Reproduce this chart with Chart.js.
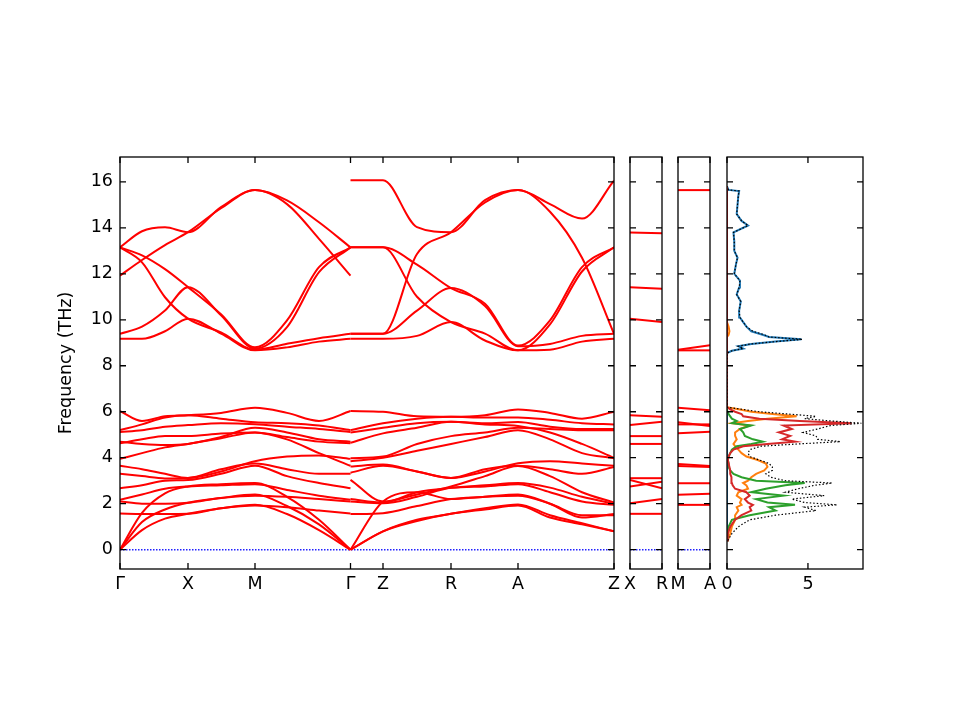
<!DOCTYPE html>
<html>
<head>
<meta charset="utf-8">
<script src="https://cdn.jsdelivr.net/npm/chart.js@4.4.1/dist/chart.umd.min.js"></script>
<style>
  html, body { margin: 0; padding: 0; background: #fff; }
  #wrap { position: relative; width: 960px; height: 720px; }
  #wrap canvas { position: absolute; left: 0; top: 0; }
</style>
</head>
<body>
<div id="wrap">
  <canvas id="bandas" width="960" height="720"></canvas>
  <canvas id="xr" width="960" height="720"></canvas>
  <canvas id="ma" width="960" height="720"></canvas>
  <canvas id="dos" width="960" height="720"></canvas>
</div>
<script>
// ---- dados ----
const Y_MIN = -0.84, Y_MAX = 17.08;
const Y_TICKS = [0, 2, 4, 6, 8, 10, 12, 14, 16];

const K_POS = [0, 68, 135, 230.5, 263, 331, 398, 494];
const K_LABELS = ['Γ', 'X', 'M', 'Γ', 'Z', 'R', 'A', 'Z'];

// Γ-X-M-Γ
const KA = [0, 22, 45, 68, 101, 135, 167, 199, 230.5];
const BANDS_A = [
  [13.15, 13.85, 14.02, 13.81, 14.9, 15.64, 15.19, 14.24, 13.15],
  [11.92, 12.6, 13.25, 13.81, 14.85, 15.64, 15.03, 13.52, 11.92],
  [13.15, 12.8, 12.2, 11.42, 10.24, 8.8, 9.97, 12.29, 13.15],
  [13.15, 12.5, 10.98, 10.05, 9.45, 8.7, 8.96, 9.2, 9.39],
  [9.39, 9.7, 10.4, 11.42, 10.2, 8.75, 9.68, 12.07, 13.15],
  [9.17, 9.17, 9.5, 10.05, 9.4, 8.67, 8.8, 9.05, 9.17],
  [6.03, 5.6, 5.8, 5.85, 5.95, 6.17, 5.95, 5.6, 6.03],
  [5.2, 5.45, 5.75, 5.85, 5.7, 5.54, 5.5, 5.4, 5.2],
  [5.12, 5.2, 5.35, 5.42, 5.5, 5.46, 5.35, 5.25, 5.12],
  [4.7, 4.6, 4.55, 4.6, 4.9, 5.3, 5.1, 4.8, 4.7],
  [4.63, 4.8, 4.95, 4.94, 5.05, 5.1, 4.9, 4.7, 4.63],
  [3.95, 4.2, 4.45, 4.6, 4.85, 5.1, 4.8, 4.2, 3.65],
  [3.65, 3.5, 3.3, 3.12, 3.4, 3.85, 4.05, 4.1, 3.95],
  [3.3, 3.2, 3.1, 3.12, 3.5, 3.75, 3.5, 3.3, 3.3],
  [2.67, 2.8, 3.0, 3.03, 3.3, 3.65, 3.2, 2.9, 2.67],
  [2.17, 2.4, 2.65, 2.75, 2.8, 2.85, 2.6, 2.35, 2.17],
  [2.1, 2.0, 2.0, 2.04, 2.25, 2.35, 2.3, 2.2, 2.1],
  [1.57, 1.55, 1.55, 1.56, 1.8, 1.92, 1.85, 1.7, 1.57],
  [0, 1.6, 2.45, 2.75, 2.85, 2.9, 2.3, 1.3, 0],
  [0, 1.2, 1.75, 2.04, 2.25, 2.4, 1.9, 1.1, 0],
  [0, 0.85, 1.35, 1.56, 1.8, 1.95, 1.55, 0.85, 0]
];

// Γ-Z-R-A-Z
const KB = [230.5, 263, 297, 331, 365, 398, 430, 462, 494];
const BANDS_B = [
  [16.07, 16.07, 14.03, 13.81, 15.2, 15.64, 15.03, 14.4, 16.05],
  [9.39, 9.39, 12.86, 13.81, 15.1, 15.64, 14.7, 12.7, 9.39],
  [13.15, 13.15, 12.4, 11.38, 10.7, 8.88, 9.97, 12.29, 13.15],
  [13.15, 13.15, 11.0, 9.9, 9.4, 8.67, 9.8, 12.1, 13.15],
  [9.39, 9.39, 10.4, 11.38, 10.6, 8.85, 8.95, 9.3, 9.39],
  [9.17, 9.17, 9.3, 9.9, 9.1, 8.67, 8.7, 9.05, 9.17],
  [6.03, 6.0, 5.8, 5.78, 5.85, 6.1, 5.95, 5.7, 6.0],
  [5.2, 5.5, 5.7, 5.78, 5.75, 5.75, 5.65, 5.5, 5.45],
  [5.1, 5.3, 5.5, 5.56, 5.5, 5.55, 5.35, 5.25, 5.25],
  [4.65, 5.06, 5.3, 5.56, 5.45, 5.38, 5.1, 4.6, 4.0],
  [3.98, 4.05, 4.6, 4.94, 5.1, 5.3, 5.25, 5.2, 5.2],
  [3.85, 4.0, 4.3, 4.6, 4.9, 5.2, 4.8, 4.2, 3.98],
  [3.62, 3.7, 3.4, 3.12, 3.4, 3.76, 3.85, 3.75, 3.65],
  [3.35, 3.65, 3.4, 3.12, 3.5, 3.65, 3.5, 3.3, 3.6],
  [3.04, 2.1, 2.4, 2.75, 3.2, 3.64, 3.2, 2.5, 2.05],
  [2.2, 2.05, 2.5, 2.69, 2.8, 2.9, 2.7, 2.3, 2.0],
  [2.1, 2.02, 2.3, 2.69, 2.75, 2.85, 2.5, 2.1, 1.95],
  [1.55, 1.59, 1.9, 2.2, 2.3, 2.4, 2.0, 1.4, 1.55],
  [0, 2.1, 2.5, 2.2, 2.3, 2.35, 2.0, 1.5, 1.5],
  [0, 0.8, 1.3, 1.56, 1.8, 1.97, 1.5, 1.15, 0.8],
  [0, 0.8, 1.25, 1.56, 1.75, 1.92, 1.4, 1.1, 0.8]
];

// X-R e M-A (inicio, fim)
const XR_START = [13.8, 11.42, 10.05, 5.85, 5.42, 4.94, 4.6, 3.11, 3.03, 2.75, 2.02, 1.56];
const XR_END   = [13.76, 11.35, 9.9, 5.78, 5.56, 4.94, 4.6, 3.11, 2.67, 2.95, 2.2, 1.56];
const MA_START = [15.64, 8.7, 8.67, 6.17, 5.54, 5.45, 5.06, 3.73, 3.64, 2.89, 2.39, 1.95];
const MA_END   = [15.64, 8.89, 8.67, 6.07, 5.38, 5.45, 5.13, 3.64, 3.6, 2.89, 2.43, 1.95];

// DOS
const F_LOW = [0.4, 0.7, 1.0, 1.3, 1.5, 1.7, 1.85, 1.95, 2.05, 2.2, 2.35, 2.5, 2.65, 2.8, 2.9, 3.0, 3.15, 3.3, 3.45, 3.6, 3.75, 3.9, 4.05, 4.2, 4.35, 4.5, 4.6, 4.7, 4.8, 4.95, 5.1, 5.25, 5.4, 5.5, 5.6, 5.7, 5.8, 5.9, 6.0, 6.1, 6.2];
const F_HIGH = [8.55, 8.65, 8.75, 8.85, 8.95, 9.05, 9.15, 9.25, 9.35, 9.5, 9.7, 9.9, 10.1, 10.4, 10.8, 11.1, 11.4, 11.7, 12.0, 12.4, 12.7, 13.0, 13.4, 13.8, 14.1, 14.3, 14.6, 15.0, 15.4, 15.6, 15.65, 15.8];

const DOS_ORANGE_LOW = [0.05, 0.2, 0.3, 0.5, 0.5, 0.7, 0.6, 0.9, 0.8, 0.9, 0.6, 0.7, 1.3, 1.2, 1.0, 1.3, 1.5, 1.8, 2.3, 2.5, 2.4, 1.9, 1.2, 0.9, 0.7, 0.5, 0.4, 0.5, 0.6, 0.5, 0.5, 0.8, 1.4, 0.3, 1.3, 2.5, 4.3, 2.8, 1.5, 0.8, 0];
const DOS_GREEN_LOW  = [0, 0.05, 0.1, 0.3, 1.4, 3.0, 2.6, 4.2, 2.5, 1.8, 3.5, 1.5, 2.4, 3.6, 4.8, 1.8, 0.9, 0.4, 0.2, 0.1, 0.1, 0.05, 0.1, 0.2, 0.3, 0.6, 1.5, 2.2, 1.6, 1.1, 1.0, 0.8, 1.5, 0.3, 0.6, 0.3, 0.2, 0.1, 0.05, 0, 0];
const DOS_RED_LOW    = [0, 0.05, 0.2, 0.5, 0.9, 1.5, 1.4, 1.6, 1.3, 1.1, 1.4, 1.2, 0.5, 0.35, 0.3, 0.3, 0.25, 0.2, 0.2, 0.15, 0.1, 0.05, 0.1, 0.2, 0.4, 1.0, 2.5, 4.2, 3.4, 3.9, 3.2, 4.0, 3.5, 7.7, 4.5, 2.0, 1.0, 0.9, 0.5, 0.2, 0];
const DOS_TOTAL_LOW  = [0.05, 0.3, 0.7, 1.4, 3.0, 5.5, 4.8, 6.8, 4.8, 4.0, 6.0, 3.6, 4.4, 5.4, 6.5, 3.6, 2.7, 2.4, 2.8, 2.8, 2.6, 2.0, 1.4, 1.3, 1.4, 2.1, 4.4, 7.0, 5.6, 5.5, 4.7, 5.6, 6.4, 8.3, 6.4, 4.8, 5.5, 3.8, 2.0, 1.0, 0];

const DOS_BLUE_HIGH   = [0, 0.3, 1.0, 0.7, 1.5, 3.0, 4.6, 2.6, 2.2, 1.5, 1.2, 1.0, 0.8, 0.75, 0.85, 0.6, 0.75, 0.8, 0.45, 0.55, 0.65, 0.45, 0.45, 0.4, 1.3, 0.9, 0.6, 0.65, 0.7, 0.75, 0.1, 0];
const DOS_ORANGE_HIGH = [0, 0, 0, 0, 0, 0, 0, 0, 0.1, 0.15, 0.1, 0, 0, 0, 0, 0, 0, 0, 0, 0, 0, 0, 0, 0, 0, 0, 0, 0, 0, 0, 0, 0];
const DOS_TOTAL_HIGH  = [0, 0.3, 1.0, 0.7, 1.5, 3.0, 4.65, 2.6, 2.3, 1.6, 1.2, 1.0, 0.8, 0.75, 0.85, 0.6, 0.75, 0.8, 0.45, 0.55, 0.65, 0.45, 0.45, 0.4, 1.3, 0.9, 0.6, 0.65, 0.7, 0.75, 0.1, 0];

const DOS_X_TICKS = [0, 5];
const DOS_MAX = 8.4;

// ---- estilo ----
Chart.defaults.color = '#000';
Chart.defaults.font.family = 'DejaVu Sans';
const FONTE = { family: 'DejaVu Sans', size: 17.5 };

// moldura com ticks para dentro (estilo matplotlib)
const moldura = {
  id: 'moldura',
  afterDraw(chart, args, opts) {
    const { ctx, chartArea: a, scales } = chart;
    const L = 6;
    ctx.save();
    ctx.strokeStyle = '#000';
    ctx.lineWidth = 1.3;
    ctx.beginPath();
    (opts.xTicks || []).forEach(v => {
      const px = scales.x.getPixelForValue(v);
      ctx.moveTo(px, a.bottom); ctx.lineTo(px, a.bottom - L);
      ctx.moveTo(px, a.top); ctx.lineTo(px, a.top + L);
    });
    Y_TICKS.forEach(v => {
      const py = scales.y.getPixelForValue(v);
      ctx.moveTo(a.left, py); ctx.lineTo(a.left + L, py);
      ctx.moveTo(a.right, py); ctx.lineTo(a.right - L, py);
    });
    ctx.stroke();
    ctx.strokeRect(a.left, a.top, a.right - a.left, a.bottom - a.top);
    ctx.restore();
  }
};

function linhasBandas(kx, bands) {
  return bands.map(b => ({
    data: kx.map((k, i) => ({ x: k, y: b[i] })),
    borderColor: '#ff0000',
    borderWidth: 2,
    pointRadius: 0,
    cubicInterpolationMode: 'monotone',
    fill: false
  }));
}

function linhasRetas(ini, fim) {
  return ini.map((v, i) => ({
    data: [{ x: 0, y: v }, { x: 1, y: fim[i] }],
    borderColor: '#ff0000',
    borderWidth: 2,
    pointRadius: 0,
    tension: 0
  }));
}

function linhaZero(x0, x1) {
  return {
    data: [{ x: x0, y: 0 }, { x: x1, y: 0 }],
    borderColor: '#2020ff',
    borderWidth: 1.4,
    borderDash: [1.5, 1.5],
    pointRadius: 0
  };
}

function eixoX(min, max, posicoes, rotulos) {
  return {
    type: 'linear', min: min, max: max,
    afterBuildTicks: ax => { ax.ticks = posicoes.map(v => ({ value: v })); },
    afterFit: ax => { ax.height = 30; },
    grid: { display: false, drawTicks: false },
    border: { display: false },
    ticks: {
      autoSkip: false, maxRotation: 0, minRotation: 0, padding: 5,
      font: FONTE, callback: (v, i) => rotulos[i]
    }
  };
}

function eixoYOculto() {
  return {
    type: 'linear', min: Y_MIN, max: Y_MAX, display: false,
    afterBuildTicks: ax => { ax.ticks = Y_TICKS.map(v => ({ value: v })); }
  };
}

function opcoesBase(esq, dir, scales, xTicks) {
  return {
    responsive: false,
    animation: false,
    devicePixelRatio: 1,
    layout: { padding: { left: esq, right: 960 - dir, top: 157, bottom: 720 - 569 - 30 } },
    plugins: { legend: { display: false }, tooltip: { enabled: false }, moldura: { xTicks: xTicks } },
    scales: scales
  };
}

// ---- painel 1: bandas ----
function montarBandas() {
  const ctx = document.getElementById('bandas').getContext('2d');
  const datasets = linhasBandas(KA, BANDS_A)
    .concat(linhasBandas(KB, BANDS_B))
    .concat([linhaZero(0, 494)]);
  const opts = opcoesBase(56, 614, {
    x: eixoX(0, 494, K_POS, K_LABELS),
    y: {
      type: 'linear', min: Y_MIN, max: Y_MAX,
      afterBuildTicks: ax => { ax.ticks = Y_TICKS.map(v => ({ value: v })); },
      afterFit: ax => { ax.width = 64; },
      grid: { display: false, drawTicks: false },
      border: { display: false },
      ticks: { padding: 7, font: FONTE },
      title: { display: true, text: 'Frequency (THz)', font: FONTE, padding: 0 }
    }
  }, K_POS);
  new Chart(ctx, { type: 'line', data: { datasets: datasets }, options: opts, plugins: [moldura] });
}

// ---- painel 2: X-R ----
function montarXR() {
  const ctx = document.getElementById('xr').getContext('2d');
  const datasets = linhasRetas(XR_START, XR_END).concat([linhaZero(0, 1)]);
  const opts = opcoesBase(630, 662, { x: eixoX(0, 1, [0, 1], ['X', 'R']), y: eixoYOculto() }, [0, 1]);
  new Chart(ctx, { type: 'line', data: { datasets: datasets }, options: opts, plugins: [moldura] });
}

// ---- painel 3: M-A ----
function montarMA() {
  const ctx = document.getElementById('ma').getContext('2d');
  const datasets = linhasRetas(MA_START, MA_END).concat([linhaZero(0, 1)]);
  const opts = opcoesBase(678, 710, { x: eixoX(0, 1, [0, 1], ['M', 'A']), y: eixoYOculto() }, [0, 1]);
  new Chart(ctx, { type: 'line', data: { datasets: datasets }, options: opts, plugins: [moldura] });
}

// ---- painel 4: DOS ----
function montarDOS() {
  const ctx = document.getElementById('dos').getContext('2d');
  const freq = F_LOW.concat(F_HIGH);
  const zerosLow = F_LOW.map(() => 0);
  const zerosHigh = F_HIGH.map(() => 0);
  const serie = (valores, cor, largura, tracejado) => ({
    data: freq.map((f, i) => ({ x: valores[i], y: f })),
    borderColor: cor,
    borderWidth: largura,
    borderDash: tracejado || [],
    pointRadius: 0,
    tension: 0
  });
  const datasets = [
    serie(DOS_TOTAL_LOW.concat(DOS_TOTAL_HIGH), '#000000', 1.2, [1.5, 2]),
    serie(DOS_RED_LOW.concat(zerosHigh), '#d62728', 2),
    serie(DOS_GREEN_LOW.concat(zerosHigh), '#2ca02c', 2),
    serie(DOS_ORANGE_LOW.concat(DOS_ORANGE_HIGH), '#ff7f0e', 2),
    serie(zerosLow.concat(DOS_BLUE_HIGH), '#1f77b4', 2)
  ];
  const opts = opcoesBase(727, 863, {
    x: eixoX(0, DOS_MAX, DOS_X_TICKS, DOS_X_TICKS.map(String)),
    y: eixoYOculto()
  }, DOS_X_TICKS);
  opts.indexAxis = 'y';
  new Chart(ctx, { type: 'line', data: { datasets: datasets }, options: opts, plugins: [moldura] });
}

montarBandas();
montarXR();
montarMA();
montarDOS();
</script>
</body>
</html>
